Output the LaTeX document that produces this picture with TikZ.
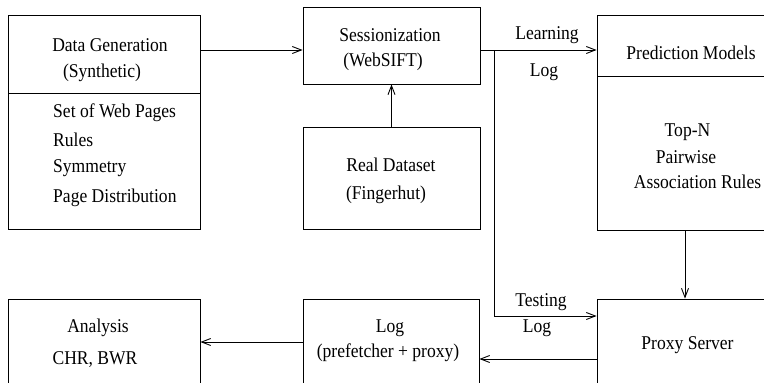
\documentclass[tikz,border=0pt]{standalone}
\usepackage{fontspec}
\setmainfont[FakeStretch=0.9]{Liberation Serif}
\usetikzlibrary{arrows.meta}
\begin{document}
\begin{tikzpicture}[x=1pt,y=-1pt,
  box/.style={draw, line width=0.9pt, rectangle, inner sep=0pt},
  txt/.style={inner sep=0pt, font=\fontsize{19.5}{23}\selectfont},
  ltxt/.style={txt, anchor=west},
  arr/.style={line width=0.9pt, -{Straight Barb[length=9pt,width=7pt]}},
  ln/.style={line width=0.9pt}]
\useasboundingbox (0,0) rectangle (764,383);
\clip (0,0) rectangle (764,383);
% boxes
\node[box, minimum width=192pt, minimum height=214pt] (dg) at (104,122) {};
\node[box, minimum width=177pt, minimum height=77pt] (sess) at (391.5,45.5) {};
\node[box, minimum width=177pt, minimum height=102pt] (real) at (391.5,178) {};
\node[box, minimum width=210pt, minimum height=215pt] (pred) at (702,122.5) {};
\node[box, minimum width=210pt, minimum height=130pt] (proxy) at (702,364) {};
\node[box, minimum width=176pt, minimum height=130pt] (log) at (391,364) {};
\node[box, minimum width=192pt, minimum height=130pt] (ana) at (104,364) {};
% dividers
\coordinate (dgd) at (8,93);
\draw[ln] (dgd) -- (dgd -| dg.east);
\coordinate (pdd) at (597,76);
\draw[ln] (pdd) -- (pdd -| pred.east);
% texts
\node[txt] (t1) at (110,45) {Data Generation};
\node[txt] (t2) at (102,73) {(Synthetic)};
\node[ltxt] (t3) at (53,113) {Set of Web Pages};
\node[ltxt] (t4) at (53,140) {Rules};
\node[ltxt] (t5) at (53,168) {Symmetry};
\node[ltxt] (t6) at (53,198) {Page Distribution};
\node[txt] (t7) at (390,35) {Sessionization};
\node[txt] (t8) at (383,62) {(WebSIFT)};
\node[txt] (t9) at (391,165) {Real Dataset};
\node[txt] (t10) at (386,195) {(Fingerhut)};
\node[txt] (t11) at (691,53) {Prediction Models};
\node[txt] (t12) at (687.5,132) {Top-N};
\node[txt] (t13) at (686,157) {Pairwise};
\node[txt] (t14) at (697.5,182) {Association Rules};
\node[txt] (t15) at (687.5,345) {Proxy Server};
\node[txt] (t16) at (390,328) {Log};
\node[txt] (t17) at (388,353) {(prefetcher + proxy)};
\node[txt] (t18) at (98,328) {Analysis};
\node[txt] (t19) at (95,360) {CHR, BWR};
\node[txt] (l1) at (547,35) {Learning};
\node[txt] (l2) at (544,72) {Log};
\node[txt] (l3) at (541,302) {Testing};
\node[txt] (l4) at (537,328) {Log};
% connectors
\coordinate (a1) at (200,50);
\draw[arr] (a1) -- (a1 -| sess.west);
\draw[arr] (real.north) -- (sess.south);
\coordinate (s1) at (480,50);
\coordinate (br) at (494,50);
\draw[arr] (s1) -- (s1 -| pred.west);
\coordinate (br2) at (494,316);
\draw[arr] (br) -- (br2) -- (br2 -| proxy.west);
\coordinate (p1) at (685,230);
\draw[arr] (p1) -- (p1 |- proxy.north);
\coordinate (p2) at (597,359);
\draw[arr] (p2) -- (p2 -| log.east);
\coordinate (g1) at (303,342);
\draw[arr] (g1) -- (g1 -| ana.east);
\end{tikzpicture}
\end{document}
